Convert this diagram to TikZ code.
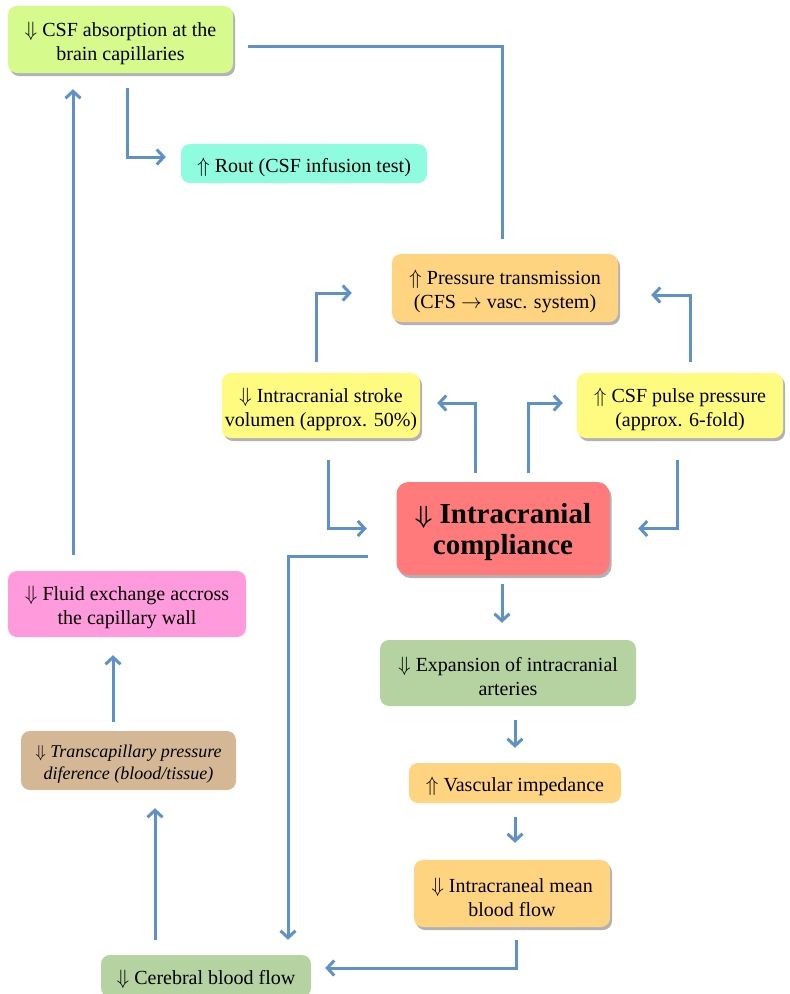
\documentclass[tikz,border=0pt]{standalone}
\usepackage{amsmath}
\usepackage{fontspec}
\setmainfont{Liberation Serif}
\usetikzlibrary{arrows.meta,shadows}
\newcommand{\mystrut}[1]{\rule{0pt}{#1}}
\definecolor{lineblue}{RGB}{95,145,200}
\definecolor{cabsorb}{RGB}{214,250,140}
\definecolor{crout}{RGB}{143,252,224}
\definecolor{corange}{RGB}{255,212,128}
\definecolor{cyellow}{RGB}{255,250,128}
\definecolor{cred}{RGB}{255,123,123}
\definecolor{cpink}{RGB}{255,154,220}
\definecolor{ctan}{RGB}{212,184,149}
\definecolor{cgreen}{RGB}{181,211,160}
\tikzset{
  box/.style={rectangle, rounded corners=9pt, inner sep=0pt, align=center,
    font=\fontsize{20}{24}\selectfont},
  shad/.style={drop shadow={shadow xshift=2pt, shadow yshift=-3pt, opacity=0.3, fill=black}},
  conn/.style={draw=lineblue, line width=3pt},
  arr/.style={conn, -{Straight Barb[length=7pt,width=15pt,line width=3pt]}}
}
\begin{document}
\begin{tikzpicture}[x=1pt,y=-1pt]
\useasboundingbox (0,0) rectangle (790,994);
% nodes
\node[box, shad, fill=cabsorb, minimum width=225pt, minimum height=67pt] (absorb) at (120.5,39.5)
  {\mystrut{22pt}$\Downarrow$ CSF absorption at the\\brain capillaries};
\node[box, fill=crout, minimum width=246pt, minimum height=39pt] (rout) at (304,163.5)
  {\mystrut{22pt}$\Uparrow$ Rout (CSF infusion test)};
\node[box, shad, fill=corange, minimum width=226pt, minimum height=68pt] (press) at (505,288)
  {\mystrut{22pt}$\Uparrow$ Pressure transmission\\(CFS $\rightarrow$ vasc. system)};
\node[box, shad, fill=cyellow, minimum width=198pt, minimum height=65pt] (stroke) at (321,405.5)
  {\mystrut{22pt}$\Downarrow$ Intracranial stroke\\volumen (approx. 50\%)};
\node[box, shad, fill=cyellow, minimum width=206pt, minimum height=65pt] (pulse) at (680,405.5)
  {\mystrut{22pt}$\Uparrow$ CSF pulse pressure\\(approx. 6-fold)};
\node[box, shad, fill=cred, minimum width=213pt, minimum height=93pt, rounded corners=12pt,
  font=\fontsize{29}{31}\selectfont\bfseries] (compl) at (503,528.5)
  {\mystrut{28pt}$\boldsymbol{\Downarrow}$ Intracranial\\compliance};
\node[box, fill=cpink, minimum width=238pt, minimum height=66pt] (fluid) at (127,604)
  {\mystrut{22pt}$\Downarrow$ Fluid exchange accross\\the capillary wall};
\node[box, fill=ctan, minimum width=215pt, minimum height=59pt,
  font=\fontsize{18}{22}\selectfont\itshape] (trans) at (128.5,760.5)
  {\mystrut{20pt}$\Downarrow$ Transcapillary pressure\\diference (blood/tissue)};
\node[box, fill=cgreen, minimum width=210pt, minimum height=42pt] (cereb) at (206,976)
  {\mystrut{22pt}$\Downarrow$ Cerebral blood flow};
\node[box, fill=cgreen, minimum width=256pt, minimum height=66pt] (expan) at (508,673)
  {\mystrut{22pt}$\Downarrow$ Expansion of intracranial\\arteries};
\node[box, fill=corange, minimum width=212pt, minimum height=40pt] (vasc) at (515,783)
  {\mystrut{22pt}$\Uparrow$ Vascular impedance};
\node[box, shad, fill=corange, minimum width=196pt, minimum height=67pt] (mean) at (512,893.5)
  {\mystrut{22pt}$\Downarrow$ Intracraneal mean\\blood flow};
% connectors
\draw[arr] ([xshift=6.5pt,yshift=-15pt]absorb.south) |- ([xshift=-15pt,yshift=6.5pt]rout.west);
\draw[conn] ([xshift=-3pt,yshift=15pt]press.north) |- ([xshift=15pt,yshift=-6.5pt]absorb.east);
\draw[arr] ([xshift=-54pt,yshift=16pt]fluid.north) -- ([xshift=-47.5pt,yshift=-16pt]absorb.south);
\draw[arr] ([xshift=-15.5pt,yshift=9pt]trans.north) -- ([xshift=-14pt,yshift=-18pt]fluid.south);
\draw[arr] ([xshift=-51pt,yshift=15pt]cereb.north) -- ([xshift=26.5pt,yshift=-18pt]trans.south);
\draw[arr] ([xshift=-28pt,yshift=-27.5pt]compl.west) -| ([xshift=82pt,yshift=15pt]cereb.north);
\draw[arr] ([xshift=7pt,yshift=-22pt]stroke.south) |- ([xshift=-29.5pt]compl.west);
\draw[arr] ([xshift=-3pt,yshift=-22pt]pulse.south) |- ([xshift=28.5pt]compl.east);
\draw[arr] ([xshift=-28pt,yshift=9pt]compl.north) |- ([xshift=17pt,yshift=2.5pt]stroke.east);
\draw[arr] ([xshift=25pt,yshift=9pt]compl.north) |- ([xshift=-14pt,yshift=2.5pt]pulse.west);
\draw[arr] ([xshift=-5pt,yshift=11pt]stroke.north) |- ([xshift=-40pt,yshift=-5pt]press.west);
\draw[arr] ([xshift=10pt,yshift=11pt]pulse.north) |- ([xshift=33pt,yshift=-7pt]press.east);
\draw[arr] ([xshift=-1pt,yshift=-9pt]compl.south) -- ([xshift=-6pt,yshift=17pt]expan.north);
\draw[arr] ([xshift=7pt,yshift=-14pt]expan.south) -- ([yshift=15pt]vasc.north);
\draw[arr] ([yshift=-14pt]vasc.south) -- ([xshift=3pt,yshift=17pt]mean.north);
\draw[arr] ([xshift=4pt,yshift=-13pt]mean.south) |- ([xshift=14pt,yshift=8pt]cereb.east);
\end{tikzpicture}
\end{document}
